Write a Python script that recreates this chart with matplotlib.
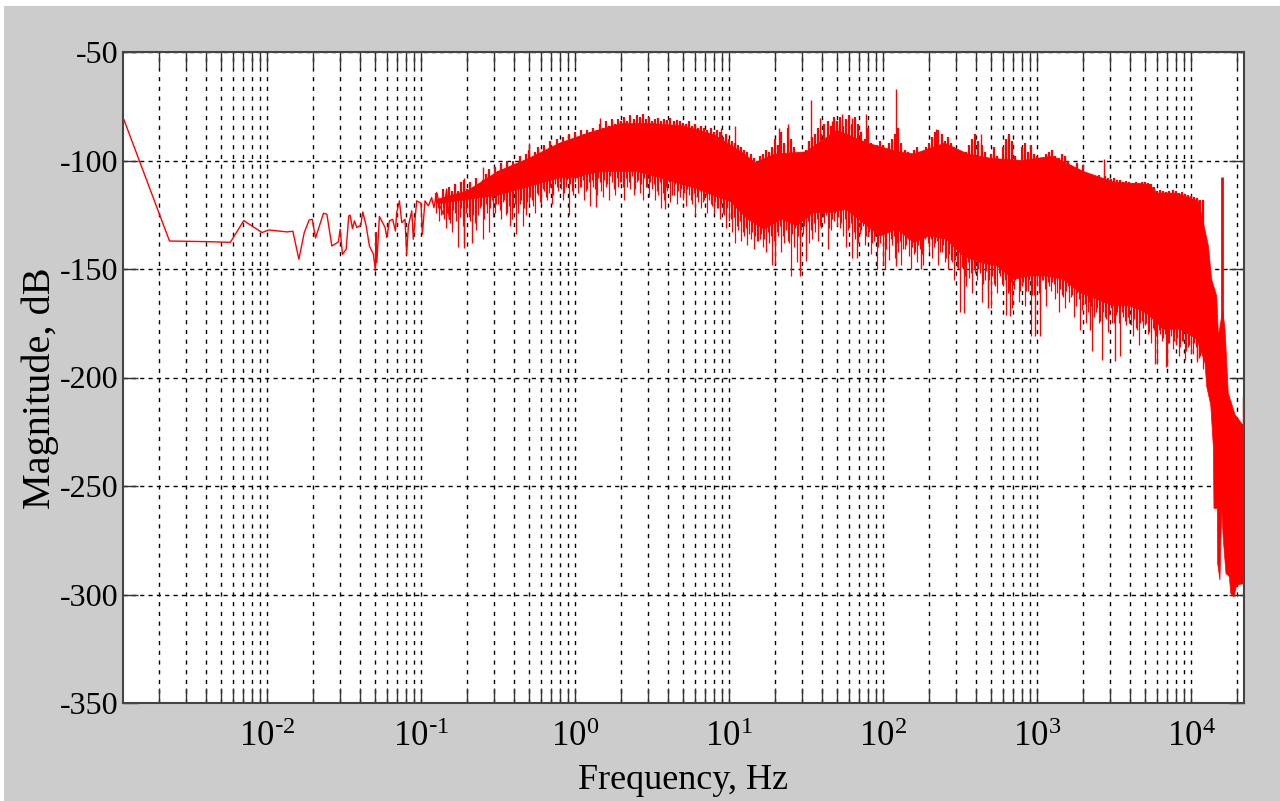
import numpy as np
import matplotlib
matplotlib.use("Agg")
import matplotlib.pyplot as plt
from matplotlib.patches import Rectangle
from matplotlib.ticker import LogLocator, NullFormatter

plt.rcParams['font.family'] = ['Liberation Serif', 'DejaVu Serif']
plt.rcParams['mathtext.default'] = 'regular'

# thin low-frequency trace: log10(Hz), dB
trace_exp = [-2.929,-2.633,-2.389,-2.238,-2.151,-2.032,-1.989,-1.870,-1.832,-1.793,-1.758,-1.726,-1.706,-1.685,-1.633,-1.611,-1.579,-1.536,-1.525,-1.510,-1.486,-1.469,-1.460,-1.445,-1.432,-1.417,-1.391,-1.378,-1.356,-1.335,-1.309,-1.296,-1.292,-1.287,-1.270,-1.233,-1.222,-1.205,-1.184,-1.166,-1.158,-1.140,-1.125,-1.104,-1.093,-1.082,-1.060,-1.050,-1.028,-1.000,-0.991,-0.974,-0.952,-0.931,-0.916,-0.898,-0.877,-0.855,-0.834,-0.816]
trace_db = [-81.2,-137.1,-137.4,-137.7,-127.7,-133.2,-132.0,-132.9,-132.6,-145.5,-133.2,-127.4,-127.1,-135.7,-124.3,-124.8,-139.4,-137.5,-131.7,-143.2,-140.9,-125.5,-125.2,-131.4,-127.8,-130.9,-129.8,-123.7,-130.1,-139.4,-143.2,-150.9,-133.2,-147.1,-125.8,-130.9,-135.5,-127.8,-127.1,-132.5,-124.0,-118.6,-128.6,-127.1,-143.2,-130.1,-123.2,-136.3,-118.6,-119.7,-134.0,-118.6,-120.9,-117.1,-121.7,-114.8,-120.9,-124.8,-113.2,-127.1]

# solid body of the dense band
upper_exp = [-0.90,-0.70,-0.50,-0.30,-0.10,0.10,0.30,0.50,0.70,0.90,1.10,1.17,1.30,1.50,1.70,1.90,2.10,2.20,2.40,2.55,2.70,2.90,3.10,3.30,3.50,3.73,3.78,3.90,4.048,4.080,4.113,4.134,4.167,4.178,4.206,4.221,4.242,4.286,4.344]
upper_db = [-118,-114,-105,-99,-92,-87,-83,-83,-84,-88,-97,-101,-97,-96,-86,-92,-96,-97,-92,-97,-99,-100,-98,-105,-110,-111,-115,-115,-118.6,-128.6,-139.4,-154.8,-162.4,-180.9,-168.6,-178.0,-207.2,-217.2,-222.6]
lower_exp = [-0.90,-0.70,-0.50,-0.30,-0.20,-0.10,0.0,0.10,0.20,0.40,0.58,0.79,1.01,1.12,1.23,1.34,1.44,1.55,1.656,1.76,1.87,1.98,2.09,2.20,2.30,2.41,2.52,2.63,2.74,2.85,2.95,3.06,3.17,3.28,3.39,3.50,3.60,3.71,3.82,3.93,4.04,4.091,4.102,4.128,4.145,4.149,4.171,4.173,4.188,4.199,4.210,4.227,4.249,4.258,4.279,4.297,4.344]
lower_db = [-120,-118,-116,-112,-110,-108,-108,-106,-105,-105,-108.6,-113,-119,-127,-131.7,-127,-130,-124,-124,-122.5,-128.6,-134.8,-131.7,-137.8,-134.8,-136.3,-144,-147,-148.6,-154.8,-153.2,-153.2,-154.8,-160.9,-164,-167,-167,-170.2,-177.8,-177.8,-182.4,-193.4,-204.2,-212.6,-231.8,-260.3,-260.3,-285.7,-293.4,-259.5,-274.9,-290.3,-291.8,-299.5,-301,-295.7,-294.9]

# fine ripple of the band, one value every 0.02 decade starting at 10^-0.90
ripple_top_db = [
 -115,-118,-113,-116,-112,-114,-111,-114,-110,-109,
 -113,-110,-114,-108,-111,-109,-106,-104,-107,-103,
 -105,-101,-104,-100,-103,-100,-102,-98,-100,-97,
 -95,-99,-96,-94,-97,-93,-96,-91,-94,-90,
 -92,-89,-91,-88,-90,-87,-89,-86,-88,-86,
 -87,-85,-86,-83,-85,-82,-84,-81,-83,-81,
 -82,-80,-82,-79,-81,-79,-80,-78.5,-81,-80,
 -82,-81,-80.5,-82,-81,-81.5,-80.5,-82,-81.5,-82,
 -82.5,-83,-82,-84,-83,-85,-84,-85,-86,-85,
 -87,-86,-87,-89,-88,-90,-91,-92,-93,-94,
 -95,-96,-97,-99,-100,-98,-97,-95,-96,-94,
 -90,-93,-87,-92,-85,-90,-94,-97,-99,-96,
 -95,-91,-89,-88,-85,-88,-83,-82,-84,-80,
 -82,-80,-84,-81,-79,-83,-80,-83,-87,-90,
 -85,-92,-95,-93,-91,-93,-96,-92,-90,-88,
 -85,-92,-95,-96,-98,-95,-94,-96,-97,-94,
 -92,-89,-87,-86,-88,-91,-89,-92,-94,-95,
 -96,-99,-96,-93,-90,-88,-91,-93,-96,-99,
 -97,-94,-98,-100,-94,-90,-88,-91,-98,-101,
 -94,-92,-96,-93,-97,-98,-99,-100,-97,-96,
 -95,-98,-99,-97,-98,-100,-102,-104,-101,-105,
 -102,-106,-106.5,-107,-107.5,-106.5,-108,-107,-108,-108.5,
 -108,-109,-109,-110,-109.5,-110,-110.5,-110,-110.5,-110,
 -110,-110.5,-111,-112,-114,-113.5,-114,-114.5,-114,-113.5,
 -114,-115,-114.5,-115.5,-116,-116.5,-117,-117.5,-118,-118]
ripple_bottom_db = [
 -124,-128,-122,-131,-126,-133,-124,-140,-122,-138,
 -122,-128,-125,-132,-122,-136,-120,-133,-118,-124,
 -120,-127,-118,-124,-130,-122,-134,-120,-130,-125,
 -120,-118,-124,-116,-120,-114,-118,-112,-116,-112,
 -110,-118,-112,-125,-114,-110,-115,-112,-118,-113,
 -121,-112,-116,-110,-117,-112,-118,-110,-116,-112,
 -110,-118,-112,-113,-116,-110,-115,-118,-112,-117,
 -113,-118,-116,-122,-118,-114,-119,-116,-120,-117,
 -118,-121,-116,-120,-125,-119,-122,-118,-124,-120,
 -124,-122,-127,-124,-131,-128,-133,-138,-132,-137,
 -135,-139,-136,-141,-137,-136,-140,-142,-138,-148,
 -138,-135,-142,-138,-137,-153,-140,-147,-136,-134,
 -132,-138,-136,-133,-137,-131,-129,-141,-132,-128,
 -130,-131,-135,-140,-131,-145,-136,-138,-132,-139,
 -135,-143,-137,-150,-138,-148,-141,-146,-139,-145,
 -142,-148,-141,-136,-150,-143,-147,-141,-148,-133,
 -142,-145,-138,-148,-142,-147,-150,-146,-155,-149,
 -170,-150,-158,-154,-161,-152,-150,-165,-155,-160,
 -168,-157,-161,-153,-158,-171,-160,-168,-155,-165,
 -158,-167,-160,-181,-162,-158,-170,-155,-167,-158,
 -156,-164,-170,-162,-168,-158,-163,-172,-161,-178,
 -166,-175,-165,-188,-170,-175,-192,-172,-179,-168,
 -175,-170,-190,-172,-176,-175,-181,-177,-185,-174,
 -176,-180,-184,-178,-194,-180,-182,-195,-184,-187,
 -185,-190,-183,-192,-186,-189,-184,-193,-190,-196]
# shallower ripple, one value every 0.02 decade starting at 10^-0.89
ripple_shallow_db = [
 -122,-125,-127,-124,-129,-123,-128,-126,-130,-124,
 -126,-123,-129,-125,-121,-127,-124,-122,-126,-120,
 -123,-119,-125,-121,-127,-120,-124,-118,-122,-119,
 -117,-121,-115,-119,-113,-117,-115,-120,-111,-114,
 -113,-115,-109,-111,-116,-108,-112,-109,-114,-110,
 -109,-113,-108,-114,-109,-111,-107,-113,-108,-110,
 -112,-108,-110,-107,-113,-109,-111,-108,-112,-110,
 -111,-114,-110,-115,-112,-110,-116,-111,-114,-113,
 -115,-113,-118,-115,-117,-114,-119,-116,-118,-121,
 -119,-122,-120,-125,-122,-127,-126,-130,-128,-133,
 -131,-134,-133,-135,-137,-134,-136,-133,-135,-137,
 -133,-130,-135,-132,-138,-134,-131,-135,-132,-130,
 -128,-132,-129,-127,-130,-126,-125,-131,-127,-124,
 -126,-129,-127,-132,-129,-133,-131,-134,-130,-135,
 -133,-138,-135,-140,-134,-138,-133,-136,-135,-138,
 -137,-141,-139,-144,-140,-142,-139,-143,-136,-138,
 -136,-140,-137,-142,-139,-145,-143,-147,-146,-150,
 -149,-153,-147,-152,-150,-155,-152,-157,-151,-155,
 -153,-158,-152,-157,-155,-161,-156,-159,-154,-160,
 -156,-160,-155,-162,-157,-161,-155,-159,-156,-160,
 -157,-161,-159,-163,-160,-165,-162,-167,-164,-169,
 -166,-170,-167,-172,-168,-174,-170,-173,-171,-175,
 -171,-175,-170,-174,-172,-176,-173,-178,-175,-177,
 -175,-179,-177,-181,-178,-183,-180,-184,-181,-183,
 -182,-186,-183,-188,-185,-189,-186,-191,-188,-192]

# tall individual peaks
peak_exp = [-0.72,-0.60,-0.30,0.16,0.95,1.039,1.325,1.383,1.535,1.591,1.667,1.732,1.797,1.890,2.082,2.344,2.634,2.810,3.437,4.340]
peak_db = [-108,-103,-92,-80.5,-85,-84.3,-85.2,-83.2,-72,-80.2,-81.7,-78.6,-80.6,-78.6,-67.1,-85.5,-87.9,-88.6,-99.4,-208.8]

# deep individual notches
notch_exp = [-0.721,-0.667,0.139,0.584,1.297,1.459,1.498,1.832,2.013,2.082,2.245,2.524,2.682,2.825,2.99,3.02,3.344,3.507,3.767,3.843,4.036]
notch_db = [-140.1,-137.8,-121.2,-122.5,-147.8,-153.2,-146.3,-144.8,-150.1,-148.7,-150,-170.2,-167.8,-171.6,-180.8,-180.8,-178,-192.4,-194,-194.6,-192]

# narrow tone near 16 kHz
tone_exp = [4.199]
tone_top_db = [-107.8]
tone_bottom_db = [-185]

freq_ticks = [1e-2, 1e-1, 1e0, 1e1, 1e2, 1e3, 1e4]
freq_labels = [r'$10^{\text{-}2}$', r'$10^{\text{-}1}$', r'$10^{0}$', r'$10^{1}$', r'$10^{2}$', r'$10^{3}$', r'$10^{4}$']
db_ticks = [-350, -300, -250, -200, -150, -100, -50]

fig = plt.figure(figsize=(12.8, 8.01), dpi=100, facecolor='white')
fig.patches.append(Rectangle((4/1280, 0), 1 - 4/1280, 1 - 6/801, transform=fig.transFigure,
                             facecolor='#cccccc', edgecolor='none', zorder=-5))
ax = fig.add_axes([123/1280, 1 - 703/801, (1244 - 123)/1280, (703 - 52)/801])
ax.set_xscale('log')
ax.set_xlim(10**-2.935, 10**4.344)
ax.set_ylim(-350, -50)

red = '#ff0000'
up_f = 10.0**np.array(upper_exp)
lo_f = 10.0**np.array(lower_exp)
ax.fill(np.r_[up_f, lo_f[::-1]], np.r_[upper_db, lower_db[::-1]], color=red, lw=0.5, zorder=3)
ax.plot(10.0**np.array(trace_exp), trace_db, color=red, lw=1.0, zorder=3)

grid = np.linspace(-0.94, 4.344, 800)
mid = 0.5 * (np.interp(grid, upper_exp, upper_db) + np.interp(grid, lower_exp, lower_db))
ripple_exp = -0.90 + 0.02 * np.arange(len(ripple_top_db))
ripple_exp2 = ripple_exp + 0.01
ax.vlines(10.0**ripple_exp, np.interp(ripple_exp, grid, mid), ripple_top_db, color=red, lw=1.6, zorder=3)
ax.vlines(10.0**ripple_exp, np.interp(ripple_exp, grid, mid), ripple_bottom_db, color=red, lw=0.9, zorder=3)
ax.vlines(10.0**ripple_exp2, np.interp(ripple_exp2, grid, mid), ripple_shallow_db, color=red, lw=0.9, zorder=3)
ax.vlines(10.0**np.array(peak_exp), np.interp(peak_exp, grid, mid), peak_db, color=red, lw=1.0, zorder=3)
ax.vlines(10.0**np.array(notch_exp), np.interp(notch_exp, grid, mid), notch_db, color=red, lw=1.0, zorder=3)
ax.vlines(10.0**np.array(tone_exp), tone_bottom_db, tone_top_db, color=red, lw=2.0, zorder=3)

ax.set_xticks(freq_ticks)
ax.set_xticklabels(freq_labels)
ax.xaxis.set_minor_locator(LogLocator(base=10, subs=range(2, 10), numticks=20))
ax.xaxis.set_minor_formatter(NullFormatter())
ax.set_yticks(db_ticks)
ax.set_yticklabels([str(v) for v in db_ticks])
ax.set_axisbelow(True)
ax.grid(True, which='both', axis='x', color='black', lw=1.0, linestyle=(0, (3, 4)))
ax.grid(True, which='major', axis='y', color='black', lw=1.0, linestyle=(0, (3, 3)))
ax.tick_params(axis='both', which='major', direction='in', length=11, width=1, top=True, right=True,
               color='#333333', labelsize=23)
ax.tick_params(axis='x', which='minor', direction='in', length=11, width=1, top=True, color='#333333')
ax.tick_params(axis='x', which='major', pad=13, labelsize=25)
ax.tick_params(axis='y', which='major', pad=3)
for s in ax.spines.values():
    s.set_color('#444444')
    s.set_linewidth(1.5)

ax.set_xlabel('Frequency, Hz', fontsize=26, labelpad=7)
ax.set_ylabel('Magnitude, dB', fontsize=29, labelpad=1)
ax.yaxis.label.set_y(0.484)
ax.xaxis.label.set_x(0.4995)
fig.savefig('out.png', dpi=100, facecolor=fig.get_facecolor())
